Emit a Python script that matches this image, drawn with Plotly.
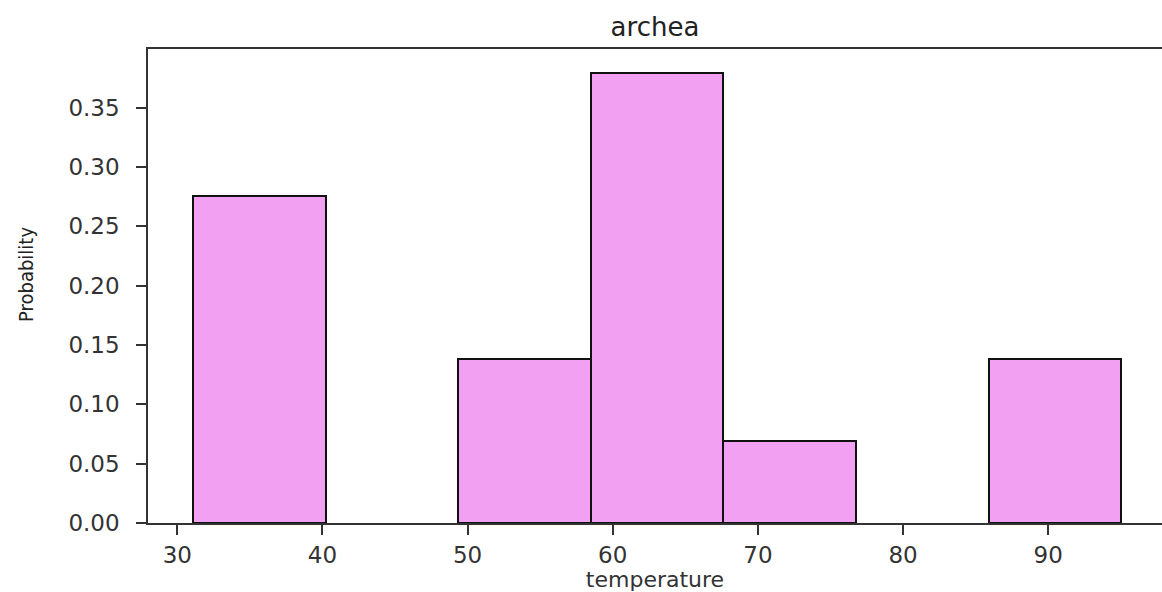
import plotly.graph_objects as go

# Histogram of archaeal growth temperatures, normalised to probability
bin_edges = [31.08, 40.22, 49.35, 58.49, 67.62, 76.76, 85.90, 95.03]
bin_counts = [8, 0, 4, 11, 2, 0, 4]
x_ticks = [30, 40, 50, 60, 70, 80, 90]
y_ticks = [0.00, 0.05, 0.10, 0.15, 0.20, 0.25, 0.30, 0.35]

total = sum(bin_counts)
probabilities = [c / total for c in bin_counts]
centers = [(a + b) / 2 for a, b in zip(bin_edges[:-1], bin_edges[1:])]
widths = [b - a for a, b in zip(bin_edges[:-1], bin_edges[1:])]
# empty bins get no outline
outline_widths = [2 if c > 0 else 0 for c in bin_counts]

W, H = 1162, 592
ML, MR, MT, MB = 148, 0, 49, 69

fig = go.Figure(
    go.Bar(
        x=centers,
        y=probabilities,
        width=widths,
        marker=dict(color="#F2A1F2", line=dict(color="#111111", width=outline_widths)),
        hoverinfo="x+y",
    )
)

axis_color = "#333333"
tick_font = dict(family="DejaVu Sans", size=23, color="#333333")

fig.update_layout(
    width=W,
    height=H,
    margin=dict(l=ML, r=MR, t=MT, b=MB, autoexpand=False),
    paper_bgcolor="white",
    plot_bgcolor="white",
    showlegend=False,
    bargap=0,
    title=dict(
        text="archea",
        x=(ML + (W - MR)) / 2 / W,
        xanchor="center",
        y=1 - 27 / H,
        yanchor="middle",
        font=dict(family="DejaVu Sans", size=26, color="#222222"),
    ),
    xaxis=dict(
        range=[27.98, 97.84],
        tickvals=x_ticks,
        ticktext=[str(v) for v in x_ticks],
        showgrid=False,
        zeroline=False,
        showline=True,
        mirror=True,
        linecolor=axis_color,
        linewidth=1.5,
        ticks="outside",
        ticklen=10,
        tickwidth=1.5,
        tickcolor=axis_color,
        tickfont=tick_font,
        ticklabelstandoff=1,
        title=dict(
            text="temperature",
            font=dict(family="DejaVu Sans", size=22, color="#333333"),
            standoff=3,
        ),
    ),
    yaxis=dict(
        range=[0, 0.3994],
        tickvals=y_ticks,
        ticktext=[f"{v:.2f}" for v in y_ticks],
        showgrid=False,
        zeroline=False,
        showline=True,
        mirror=False,
        linecolor=axis_color,
        linewidth=1.5,
        ticks="outside",
        ticklen=10,
        tickwidth=1.5,
        tickcolor=axis_color,
        tickfont=tick_font,
        ticklabelstandoff=12,
    ),
)

# Vertical y-axis label
plot_h = H - MT - MB
fig.add_annotation(
    text="Probability",
    textangle=-90,
    xref="paper",
    yref="paper",
    x=(26 - ML) / (W - ML - MR),
    y=(H - MB - 275) / plot_h,
    xanchor="center",
    yanchor="middle",
    showarrow=False,
    font=dict(family="Liberation Sans Narrow, DejaVu Sans Condensed, sans-serif", size=20, color="#222222"),
)

fig.write_html("out.html")
